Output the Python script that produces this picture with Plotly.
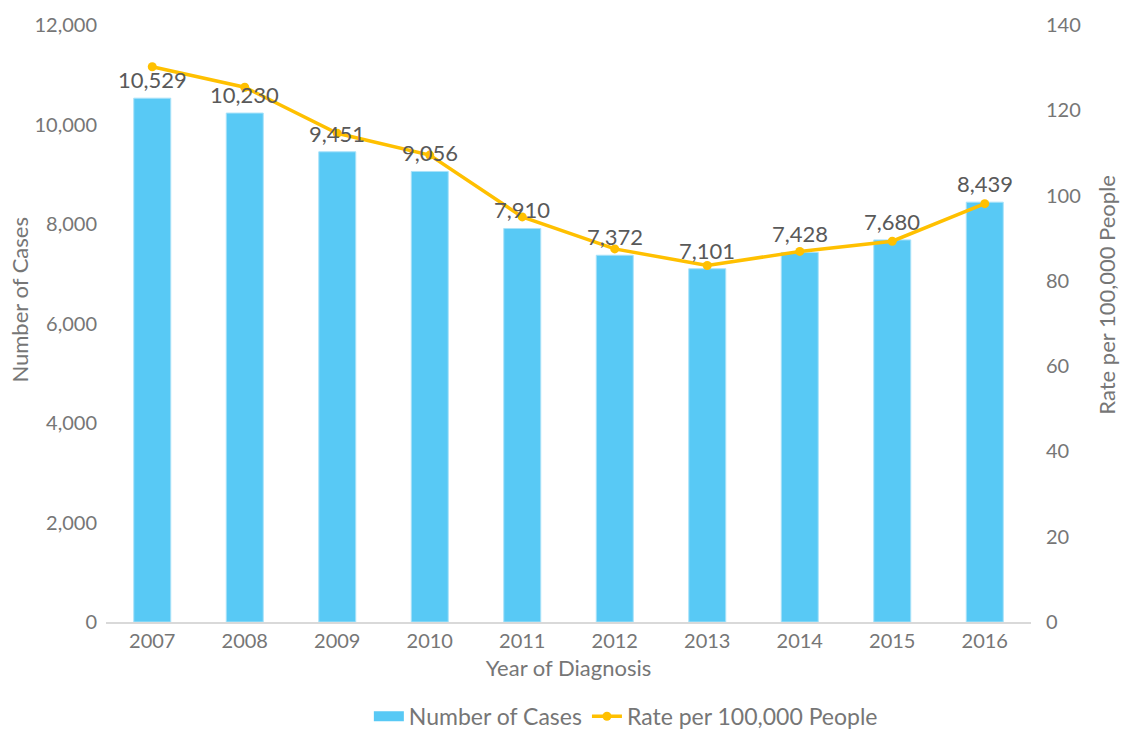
import plotly.graph_objects as go

years = ["2007", "2008", "2009", "2010", "2011", "2012", "2013", "2014", "2015", "2016"]
cases = [10529, 10230, 9451, 9056, 7910, 7372, 7101, 7428, 7680, 8439]
rates = [130.2, 125.4, 114.6, 109.5, 95.0, 87.5, 83.6, 86.9, 89.3, 98.1]

FONT = "Lato"
TICK_GREY = "#767676"
LABEL_GREY = "#595959"
BAR_BLUE = "#58C9F5"
GOLD = "#FFC000"

fig = go.Figure()

fig.add_trace(go.Bar(
    x=years, y=cases,
    name="Number of Cases",
    marker=dict(color=BAR_BLUE, line=dict(color="#A9E2F9", width=1)),
    width=0.4,
    showlegend=False,
))

# legend-only entry so the key looks like a wide block like the original
fig.add_trace(go.Scatter(
    x=[None], y=[None],
    name="Number of Cases",
    mode="lines",
    line=dict(color=BAR_BLUE, width=10),
))

# rate line on the right axis
fig.add_trace(go.Scatter(
    x=years, y=rates,
    name="Rate per 100,000 People",
    mode="lines+markers",
    line=dict(color=GOLD, width=3.5),
    marker=dict(color=GOLD, size=9),
    yaxis="y2",
    cliponaxis=False,
))

# case count labels sit above each bar, on top of the line
# (category axis -> annotation x is the category index)
for i, n in enumerate(cases):
    fig.add_annotation(
        x=i, y=n, xref="x", yref="y",
        text=f"{n:,}", showarrow=False,
        yanchor="bottom", yshift=3,
        font=dict(family=FONT, size=22, color=LABEL_GREY),
    )

# axis titles placed by hand
fig.add_annotation(
    text="Number of Cases", textangle=-90,
    xref="paper", yref="paper", x=-0.093, y=0.54,
    xanchor="center", yanchor="middle",
    showarrow=False, font=dict(family=FONT, size=22, color=TICK_GREY),
)
fig.add_annotation(
    text="Rate per 100,000 People", textangle=-90,
    xref="paper", yref="paper", x=1.082, y=0.548,
    xanchor="center", yanchor="middle",
    showarrow=False, font=dict(family=FONT, size=22, color=TICK_GREY),
)

fig.update_layout(
    width=1125, height=730,
    margin=dict(l=106, r=94, t=25, b=108, autoexpand=False),
    plot_bgcolor="white",
    paper_bgcolor="white",
    font=dict(family=FONT, size=20, color=TICK_GREY),
    showlegend=True,
    legend=dict(
        orientation="h",
        x=0.562, xanchor="center",
        y=-0.158, yanchor="middle",
        font=dict(family=FONT, size=23, color=TICK_GREY),
    ),
    xaxis=dict(
        type="category",
        range=[-0.5, 9.5],
        showgrid=False,
        showline=True, linecolor="#D9D9D9", linewidth=1.5,
        ticks="",
        tickfont=dict(family=FONT, size=20, color=TICK_GREY),
        title=dict(text="Year of Diagnosis", standoff=10,
                   font=dict(family=FONT, size=22, color=TICK_GREY)),
    ),
    yaxis=dict(
        range=[0, 12000], dtick=2000,
        showgrid=False, zeroline=False,
        tickformat=",",
        ticklabelstandoff=8,
        tickfont=dict(family=FONT, size=20, color=TICK_GREY),
    ),
    yaxis2=dict(
        range=[0, 140], dtick=20,
        overlaying="y", side="right",
        showgrid=False, zeroline=False,
        ticklabelstandoff=14,
        tickfont=dict(family=FONT, size=20, color=TICK_GREY),
    ),
)

fig.write_html(
    "out.html",
    config={"displayModeBar": False},
    post_script="document.body.style.margin='0';",
)
